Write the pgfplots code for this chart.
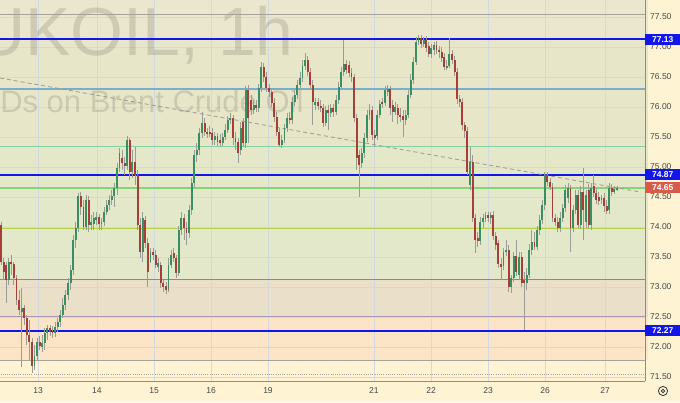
\documentclass[border=0pt]{standalone}
\usepackage{fontspec}
\setmainfont{Liberation Sans}
\usepackage{pgfplots}
\usepackage{pgfplotstable}
\pgfplotsset{compat=1.18}

\definecolor{pagebg}{HTML}{FEF4D3}
\definecolor{bandA}{HTML}{EBE6CE}
\definecolor{bandB}{HTML}{E7E6C9}
\definecolor{bandC}{HTML}{E4E7C8}
\definecolor{bandD}{HTML}{E2E8C9}
\definecolor{bandE}{HTML}{EAE0CA}
\definecolor{bandF}{HTML}{FCE4C6}
\definecolor{bandG}{HTML}{FFF3D3}
\definecolor{gridc}{HTML}{D3DADF}
\definecolor{axisc}{HTML}{8E8C86}
\definecolor{tickc}{HTML}{454545}
\definecolor{lvlblue}{HTML}{1216EA}
\definecolor{lvlgrey}{HTML}{A5A39A}
\definecolor{lvlsteel}{HTML}{7AAFCB}
\definecolor{lvlteal}{HTML}{86D0A4}
\definecolor{lvlgreen}{HTML}{86D476}
\definecolor{lvlyg}{HTML}{B3D24A}
\definecolor{lvlred}{HTML}{C9735F}
\definecolor{lvlpurp}{HTML}{A998B4}
\definecolor{trendc}{HTML}{9C9A92}
\definecolor{upc}{HTML}{3B8D62}
\definecolor{dnc}{HTML}{A53F37}
\definecolor{wick}{HTML}{9C9C96}
\definecolor{lastred}{HTML}{D85A4A}

% hourly candles, i = bar index
\pgfplotstableread{
i o h l c
0 74.03 74.08 73.37 73.42
1 73.42 73.48 73.12 73.25
2 73.37 73.42 72.73 73.12
3 73.12 73.48 73.03 73.42
4 73.42 73.53 73.20 73.38
5 73.38 73.42 73.03 73.15
6 73.15 73.20 72.70 72.78
7 72.78 72.95 72.53 72.62
8 72.58 72.98 71.67 72.65
9 72.65 72.70 72.37 72.48
10 72.48 72.53 72.03 72.20
11 72.20 72.45 71.78 72.08
12 72.08 72.15 71.57 71.68
13 71.68 72.03 71.62 71.85
14 71.85 72.15 71.78 72.08
15 72.08 72.18 71.95 72.02
16 72.00 72.20 71.92 72.07
17 72.07 72.32 71.95 72.23
18 72.23 72.37 72.12 72.32
19 72.32 72.37 72.18 72.25
20 72.27 72.35 72.15 72.23
21 72.23 72.42 72.17 72.33
22 72.33 72.48 72.25 72.42
23 72.42 72.62 72.33 72.53
24 72.53 72.82 72.48 72.70
25 72.70 72.95 72.62 72.87
26 72.87 73.15 72.78 73.07
27 73.07 73.37 72.95 73.28
28 73.28 73.87 73.20 73.78
29 73.78 74.08 73.65 73.98
30 73.98 74.57 73.92 74.52
31 74.52 74.58 74.20 74.33
32 74.33 74.45 73.95 74.00
33 74.00 74.53 73.95 74.45
34 74.45 74.52 73.92 74.03
35 74.03 74.20 73.95 74.08
36 74.05 74.25 73.95 74.15
37 74.12 74.25 74.03 74.17
38 74.17 74.22 73.95 74.05
39 74.05 74.15 73.95 74.08
40 74.08 74.33 74.02 74.25
41 74.25 74.45 74.20 74.37
42 74.37 74.53 74.28 74.45
43 74.45 74.62 74.37 74.52
44 74.52 74.73 74.33 74.65
45 74.65 75.07 74.53 74.98
46 74.98 75.32 74.92 75.23
47 75.15 75.28 74.95 75.07
48 75.07 75.17 74.87 75.02
49 75.02 75.52 74.95 75.45
50 75.45 75.48 74.78 74.92
51 74.92 75.28 74.82 75.08
52 75.08 75.33 74.70 74.87
53 74.87 74.95 73.95 74.03
54 74.03 74.15 73.48 73.58
55 73.58 74.25 73.42 74.15
56 74.12 74.18 73.65 73.73
57 73.73 73.82 73.00 73.25
58 73.42 73.65 73.40 73.58
59 73.58 73.65 73.45 73.53
60 73.53 73.62 73.32 73.37
61 73.33 73.48 73.25 73.40
62 73.37 73.42 72.98 73.07
63 73.07 73.12 72.92 73.00
64 73.02 73.08 72.88 72.95
65 72.95 73.48 72.92 73.37
66 73.37 73.62 73.32 73.53
67 73.57 73.65 73.42 73.48
68 73.48 73.53 73.15 73.23
69 73.23 74.02 73.18 73.95
70 73.95 74.25 73.87 74.15
71 74.15 74.22 73.78 73.98
72 73.98 74.08 73.70 73.90
73 73.90 74.37 73.82 74.28
74 74.28 74.82 74.20 74.73
75 74.73 75.28 74.65 75.20
76 75.20 75.40 75.08 75.28
77 75.28 75.65 75.20 75.57
78 75.57 75.92 75.48 75.73
79 75.73 75.82 75.52 75.58
80 75.58 75.65 75.48 75.55
81 75.58 75.68 75.50 75.57
82 75.57 75.65 75.37 75.45
83 75.45 75.58 75.37 75.52
84 75.52 75.57 75.35 75.42
85 75.45 75.55 75.33 75.40
86 75.40 75.57 75.35 75.50
87 75.50 75.72 75.45 75.62
88 75.62 75.85 75.57 75.78
89 75.78 75.90 75.72 75.82
90 75.82 75.87 75.37 75.48
91 75.48 75.58 75.28 75.42
92 75.42 75.48 75.07 75.23
93 75.28 75.75 75.20 75.65
94 75.75 75.82 75.33 75.40
95 75.40 76.35 75.32 76.28
96 76.28 76.37 75.40 75.82
97 76.12 76.20 75.87 75.95
98 75.95 76.12 75.88 76.03
99 76.03 76.12 75.92 75.98
100 75.98 76.38 75.92 76.32
101 76.32 76.75 76.25 76.67
102 76.67 76.73 76.42 76.50
103 76.50 76.58 76.25 76.32
104 76.32 76.38 76.17 76.25
105 76.25 76.32 76.00 76.07
106 76.07 76.15 75.75 75.83
107 75.83 75.92 75.52 75.58
108 75.58 75.65 75.33 75.37
109 75.37 75.53 75.32 75.45
110 75.45 75.72 75.40 75.65
111 75.65 75.90 75.58 75.82
112 75.82 75.92 75.72 75.78
113 75.78 76.17 75.72 76.08
114 76.08 76.28 76.02 76.20
115 76.20 76.45 76.13 76.37
116 76.37 76.58 76.28 76.48
117 76.48 76.78 76.42 76.68
118 76.68 76.90 76.62 76.78
119 76.78 76.85 76.52 76.58
120 76.58 76.65 76.28 76.37
121 76.37 76.45 75.70 76.08
122 76.03 76.15 75.95 76.08
123 76.08 76.15 75.95 76.02
124 76.02 76.12 75.92 75.98
125 75.98 76.05 75.67 75.73
126 75.73 76.02 75.68 75.95
127 75.95 76.03 75.62 75.90
128 75.90 76.05 75.83 75.98
129 75.98 76.05 75.83 75.92
130 75.92 76.20 75.87 76.12
131 76.12 76.42 76.05 76.33
132 76.33 76.67 76.28 76.58
133 76.58 77.12 76.52 76.72
134 76.72 76.78 76.55 76.62
135 76.70 76.77 76.50 76.57
136 76.57 76.65 76.42 76.50
137 76.50 76.55 75.75 75.82
138 75.82 75.88 74.95 75.15
139 75.20 75.28 74.50 75.03
140 75.07 75.32 74.98 75.23
141 75.23 75.57 75.15 75.48
142 75.48 75.95 75.42 75.87
143 75.87 76.05 75.78 75.95
144 75.95 76.02 75.45 75.53
145 75.53 75.62 75.33 75.48
146 75.52 75.95 75.45 75.87
147 75.87 76.12 75.82 76.05
148 76.08 76.15 75.98 76.05
149 76.07 76.35 76.02 76.28
150 76.25 76.37 76.18 76.30
151 76.30 76.35 75.87 75.98
152 76.03 76.12 75.75 75.92
153 75.92 76.08 75.87 76.00
154 75.98 76.05 75.72 75.87
155 75.87 75.98 75.75 75.83
156 75.85 75.95 75.50 75.78
157 75.78 75.95 75.70 75.87
158 75.87 76.28 75.82 76.20
159 76.20 76.55 76.15 76.45
160 76.45 76.83 76.38 76.75
161 76.75 77.17 76.70 77.08
162 77.08 77.20 77.03 77.15
163 77.15 77.20 76.98 77.05
164 77.05 77.17 77.00 77.12
165 77.12 77.18 76.92 76.98
166 77.02 77.08 76.83 76.88
167 76.88 77.05 76.82 76.98
168 76.95 77.08 76.87 77.03
169 77.03 77.10 76.88 76.95
170 76.95 77.02 76.82 76.92
171 76.92 77.00 76.75 76.82
172 76.83 76.90 76.62 76.67
173 76.67 76.78 76.62 76.68
174 76.68 77.15 76.65 76.88
175 76.88 76.95 76.72 76.78
176 76.78 76.85 76.52 76.58
177 76.58 76.65 76.05 76.13
178 76.13 76.20 76.00 76.08
179 76.08 76.15 75.62 75.70
180 75.70 75.75 75.48 75.60
181 75.60 75.67 74.87 74.92
182 74.70 75.33 74.62 75.08
183 75.08 75.20 74.08 74.15
184 74.15 74.22 73.57 73.78
185 73.82 73.92 73.67 73.77
186 73.77 74.17 73.70 74.08
187 74.08 74.22 73.98 74.15
188 74.13 74.25 74.08 74.20
189 74.20 74.25 74.08 74.15
190 74.15 74.25 74.05 74.20
191 74.20 74.27 73.78 73.85
192 73.85 73.92 73.62 73.70
193 73.73 73.78 73.32 73.38
194 73.38 73.48 73.12 73.33
195 73.35 73.65 73.28 73.58
196 73.58 73.78 73.52 73.62
197 73.62 73.70 72.92 73.00
198 73.00 73.20 72.90 73.15
199 73.15 73.58 73.08 73.52
200 73.52 73.78 73.18 73.25
201 73.20 73.58 73.12 73.50
202 73.50 73.58 73.00 73.07
203 73.12 73.25 72.28 73.07
204 73.07 73.32 72.95 73.20
205 73.20 73.72 73.15 73.62
206 73.62 73.95 73.53 73.75
207 73.75 73.92 73.62 73.67
208 73.67 74.02 73.62 73.95
209 73.95 74.20 73.87 74.12
210 74.12 74.45 74.05 74.37
211 74.37 74.92 74.28 74.87
212 74.87 74.92 74.68 74.75
213 74.75 74.82 74.62 74.67
214 74.67 74.73 74.08 74.15
215 74.15 74.22 74.02 74.08
216 74.08 74.17 73.92 73.98
217 73.98 74.25 73.92 74.15
218 74.15 74.38 74.08 74.32
219 74.32 74.70 74.25 74.62
220 74.48 74.73 74.40 74.65
221 74.65 74.70 73.58 73.98
222 73.98 74.37 73.92 74.28
223 74.28 74.62 74.22 74.53
224 74.53 74.62 73.98 74.03
225 74.03 74.68 73.97 74.58
226 74.58 74.98 73.78 74.28
227 74.08 74.62 73.98 74.53
228 74.62 74.72 73.97 74.03
229 74.03 74.73 73.95 74.65
230 74.68 74.87 74.50 74.57
231 74.57 74.65 74.38 74.45
232 74.50 74.58 74.37 74.43
233 74.45 74.53 74.38 74.48
234 74.48 74.57 74.25 74.35
235 74.35 74.45 74.22 74.27
236 74.28 74.73 74.22 74.65
237 74.65 74.72 74.52 74.58
238 74.58 74.68 74.55 74.63
239 74.63 74.68 74.60 74.65
}\candles

\begin{document}%
\pagecolor{pagebg}%
\begin{tikzpicture}

\begin{axis}[
    at={(0pt,21pt)}, anchor=south west,
    width=645pt, height=381pt, scale only axis,
    xmin=-0.388, xmax=249.9, ymin=71.433, ymax=77.783,
    set layers,
    axis x line*=bottom, axis y line*=right,
    axis line style={-, draw=axisc, line width=0.8pt},
    xtick={14.4,37.2,59.4,81.5,103.6,144.7,166.9,189.0,211.1,234.4},
    xticklabels={13,14,15,16,19,21,22,23,26,27},
    ytick={71.5,72,72.5,73,73.5,74,74.5,75,75.5,76,76.5,77,77.5},
    grid=major,
    major grid style={draw=gridc, line width=0.6pt},
    major tick length=0pt,
    /pgf/number format/assume math mode=true,
    tick label style={font=\fontsize{8.5}{10}\selectfont, text=tickc},
    yticklabel style={/pgf/number format/fixed, /pgf/number format/fixed zerofill,
        /pgf/number format/precision=2, anchor=west, inner sep=0pt, xshift=5pt},
    xticklabel style={anchor=north, inner sep=0pt, yshift=-6pt},
]

% background zones
\addplot[draw=none, fill=bandA, on layer=axis background, forget plot] coordinates {(-1,77.14) (251,77.14) (251,77.9) (-1,77.9)} -- cycle;
\addplot[draw=none, fill=bandB, on layer=axis background, forget plot] coordinates {(-1,75.33) (251,75.33) (251,77.14) (-1,77.14)} -- cycle;
\addplot[draw=none, fill=bandC, on layer=axis background, forget plot] coordinates {(-1,74.65) (251,74.65) (251,75.33) (-1,75.33)} -- cycle;
\addplot[draw=none, fill=bandD, on layer=axis background, forget plot] coordinates {(-1,73.12) (251,73.12) (251,74.65) (-1,74.65)} -- cycle;
\addplot[draw=none, fill=bandE, on layer=axis background, forget plot] coordinates {(-1,72.50) (251,72.50) (251,73.12) (-1,73.12)} -- cycle;
\addplot[draw=none, fill=bandF, on layer=axis background, forget plot] coordinates {(-1,71.78) (251,71.78) (251,72.50) (-1,72.50)} -- cycle;
\addplot[draw=none, fill=bandG, on layer=axis background, forget plot] coordinates {(-1,71.30) (251,71.30) (251,71.78) (-1,71.78)} -- cycle;

% watermark
\node[anchor=base west, inner sep=0pt, font=\fontsize{68}{68}\selectfont,
      text=black, text opacity=0.12] at (axis cs:-9.7,76.866) {UKOIL, 1h};
\node[anchor=base west, inner sep=0pt, font=\fontsize{31}{31}\selectfont,
      text=black, text opacity=0.12] at (axis cs:-16.4,75.90) {CFDs on Brent Crude Oil};

% levels
\addplot[lvlgrey, line width=1pt] coordinates {(-1,77.54) (251,77.54)};
\addplot[lvlsteel, line width=1.2pt] coordinates {(-1,76.30) (251,76.30)};
\addplot[lvlteal, line width=1.2pt] coordinates {(-1,75.34) (251,75.34)};
\addplot[lvlgreen, line width=1.5pt] coordinates {(-1,74.65) (251,74.65)};
\addplot[lvlyg, line width=1pt] coordinates {(-1,73.97) (251,73.97)};
\addplot[lvlred, line width=1pt] coordinates {(-1,73.13) (251,73.13)};
\addplot[lvlpurp, line width=1pt] coordinates {(-1,72.50) (251,72.50)};
\addplot[lvlgrey, line width=1pt] coordinates {(-1,71.77) (251,71.77)};
\addplot[lvlgrey, line width=0.9pt, dash pattern=on 1pt off 1.2pt] coordinates {(-1,71.54) (251,71.54)};
\addplot[lvlblue, line width=2pt] coordinates {(-1,77.13) (251,77.13)};
\addplot[lvlblue, line width=2pt] coordinates {(-1,74.87) (251,74.87)};
\addplot[lvlblue, line width=2pt] coordinates {(-1,72.27) (251,72.27)};

% trend line
\addplot[trendc, line width=0.8pt, dash pattern=on 4pt off 3pt] coordinates {(-0.4,76.483) (248,74.583)};

% wicks
\addplot[draw=none, no markers, forget plot,
    error bars/.cd, y dir=both, y explicit, error mark=none,
    error bar style={draw=wick, line width=0.8pt}]
    table[x=i, y expr={(\thisrow{h}+\thisrow{l})/2},
          y error expr={(\thisrow{h}-\thisrow{l})/2}] {\candles};
% rising bodies
\addplot[draw=none, no markers, forget plot,
    error bars/.cd, y dir=both, y explicit, error mark=none,
    error bar style={draw=upc, line width=1.9pt}]
    table[x=i, y expr={\thisrow{c}<\thisrow{o} ? nan : (\thisrow{o}+\thisrow{c})/2},
          y error expr={abs(\thisrow{c}-\thisrow{o})/2+0.004}] {\candles};
% falling bodies
\addplot[draw=none, no markers, forget plot,
    error bars/.cd, y dir=both, y explicit, error mark=none,
    error bar style={draw=dnc, line width=1.9pt}]
    table[x=i, y expr={\thisrow{c}<\thisrow{o} ? (\thisrow{o}+\thisrow{c})/2 : nan},
          y error expr={abs(\thisrow{c}-\thisrow{o})/2+0.004}] {\candles};

\coordinate (L1) at (axis cs:249.9,77.13);
\coordinate (L2) at (axis cs:249.9,74.87);
\coordinate (L3) at (axis cs:249.9,74.65);
\coordinate (L4) at (axis cs:249.9,72.27);
\end{axis}

\tikzset{pricebox/.style={anchor=west, inner sep=0pt, minimum width=35pt, minimum height=11pt,
    text=white, font=\fontsize{8.5}{10}\selectfont\bfseries}}
\node[pricebox, fill=lvlblue] at (L1) {77.13};
\node[pricebox, fill=lvlblue] at (L2) {74.87};
\node[pricebox, fill=lastred] at (L3) {74.65};
\node[pricebox, fill=lvlblue] at (L4) {72.27};

% settings icon
\draw[tickc, line width=0.9pt] (663pt,11pt) circle (4.6pt);
\draw[tickc, line width=0.8pt] (663pt,11pt) circle (1.8pt);

\pgfresetboundingbox
\useasboundingbox (0pt,0pt) rectangle (680pt,402pt);
\end{tikzpicture}%
\end{document}
